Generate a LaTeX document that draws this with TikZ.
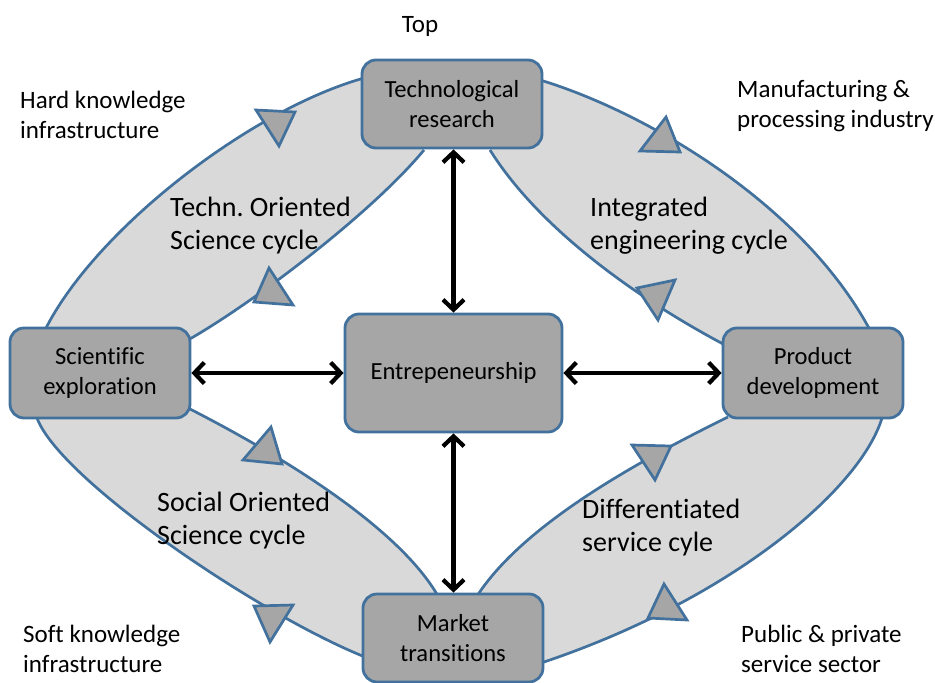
\documentclass[tikz,border=0pt]{standalone}
\usepackage{fontspec}
\setmainfont[Ligatures=NoCommon]{Carlito}
\usetikzlibrary{arrows.meta}
\frenchspacing
\definecolor{bandfill}{HTML}{D9D9D9}
\definecolor{boxfill}{HTML}{A6A6A6}
\definecolor{edgeblue}{HTML}{41719C}
\tikzset{
  box/.style={draw=edgeblue, line width=2.8pt, fill=boxfill, rounded corners=14pt,
    align=center, inner sep=0pt, font=\fontsize{24.6}{30}\selectfont},
  bandarea/.style={fill=bandfill},
  bandedge/.style={draw=edgeblue, line width=2.7pt},
  tri/.style={draw=edgeblue, line width=2.7pt, fill=boxfill, line join=miter},
  link/.style={draw=black, line width=4.2pt, {Straight Barb[length=10pt,width=21pt]}-{Straight Barb[length=10pt,width=21pt]}},
  corner/.style={align=left, anchor=west, inner sep=0pt, font=\fontsize{25}{30}\selectfont},
  cyclelabel/.style={align=left, anchor=west, inner sep=0pt, font=\fontsize{28}{33}\selectfont}
}
\begin{document}
\begin{tikzpicture}[x=1pt,y=-1pt]
\useasboundingbox (0,0) rectangle (935,683);

% bands (areas)
\path[bandarea] (45,330) .. controls (95,230) and (250,110) .. (364,78)
  -- (420,140) -- (424,150) .. controls (370,215) and (250,305) .. (188,340) -- (120,360) -- cycle;
\path[bandarea] (540,80) .. controls (640,110) and (800,200) .. (870,330)
  -- (800,360) -- (725,345) .. controls (640,300) and (540,230) .. (490,150) -- (480,120) -- cycle;
\path[bandarea] (37,418) .. controls (60,480) and (260,615) .. (365,657)
  -- (420,620) -- (438,596) .. controls (400,530) and (290,460) .. (188,408) -- (100,400) -- cycle;
\path[bandarea] (882,418) .. controls (860,490) and (730,600) .. (541,663)
  -- (500,620) -- (477,596) .. controls (520,530) and (620,470) .. (728,417) -- (800,400) -- cycle;

% band edges
\draw[bandedge] (45,330) .. controls (95,230) and (250,110) .. (364,78);
\draw[bandedge] (188,340) .. controls (250,305) and (370,215) .. (424,150);
\draw[bandedge] (540,80) .. controls (640,110) and (800,200) .. (870,330);
\draw[bandedge] (490,150) .. controls (540,230) and (640,300) .. (725,345);
\draw[bandedge] (37,418) .. controls (60,480) and (260,615) .. (365,657);
\draw[bandedge] (188,408) .. controls (290,460) and (400,530) .. (438,596);
\draw[bandedge] (728,417) .. controls (620,470) and (520,530) .. (477,596);
\draw[bandedge] (882,418) .. controls (860,490) and (730,600) .. (541,663);

% direction triangles
\draw[tri] (256,110) -- (295,112) -- (279,146) -- cycle;
\draw[tri] (269,268) -- (254,302) -- (293,305) -- cycle;
\draw[tri] (640,151) -- (680,152) -- (666,117) -- cycle;
\draw[tri] (637,288) -- (675,280) -- (658,320) -- cycle;
\draw[tri] (243,460) -- (282,464) -- (271,427) -- cycle;
\draw[tri] (254,606) -- (293,605) -- (270,642) -- cycle;
\draw[tri] (632,445) -- (671,446) -- (655,480) -- cycle;
\draw[tri] (648,618) -- (687,620) -- (664,584) -- cycle;

% boxes
\node[box, minimum width=180pt, minimum height=88pt] (tech) at (452,104) {Technological\\research};
\node[box, minimum width=180pt, minimum height=90pt] (sci) at (100,373) {Scientific\\exploration};
\node[box, minimum width=217pt, minimum height=118pt] (ent) at (453.5,373) {Entrepeneurship};
\node[box, minimum width=180pt, minimum height=90pt] (prod) at (813,373) {Product\\development};
\node[box, minimum width=180pt, minimum height=88pt] (mkt) at (453,638) {Market\\transitions};

% links
\draw[link] (sci.east) -- (ent.west);
\draw[link] (ent.east) -- (prod.west);
\draw[link] (tech.south -| ent.north) -- (ent.north);
\draw[link] (ent.south) -- (mkt.north -| ent.south);

% labels
\node[font=\fontsize{25}{30}\selectfont, inner sep=0pt] (top) at (420,26) {Top};
\node[corner] (hard) at (20,115) {Hard knowledge\\infrastructure};
\node[corner] (manu) at (737,106) {Manufacturing \&\\processing industry};
\node[corner] (soft) at (23,649) {Soft knowledge\\infrastructure};
\node[corner] (pub) at (741,649) {Public \& private\\service sector};
\node[cyclelabel] (tosc) at (170,226) {Techn. Oriented\\Science cycle};
\node[cyclelabel] (iec) at (590,226) {Integrated\\engineering cycle};
\node[cyclelabel] (sosc) at (157,521) {Social Oriented\\Science cycle};
\node[cyclelabel] (dsc) at (582,528) {Differentiated\\service cyle};
\end{tikzpicture}
\end{document}
